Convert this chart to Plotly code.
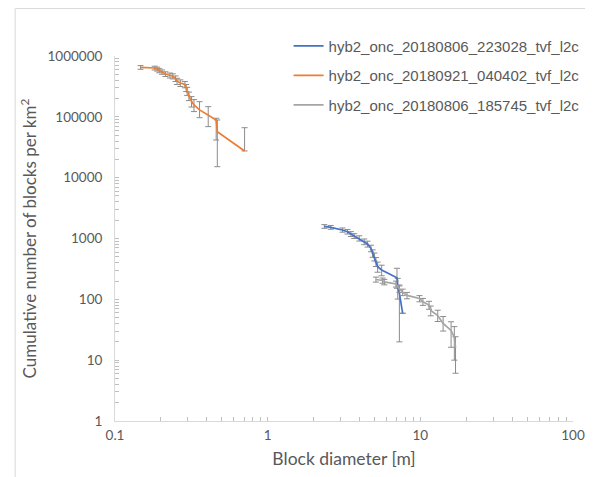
import plotly.graph_objects as go

# ---- data ----
blue_name = "hyb2_onc_20180806_223028_tvf_l2c"
blue_x = [2.35, 2.59, 3.09, 3.33, 3.51, 3.69, 3.98, 4.29, 4.51, 4.75, 4.87, 5.00, 5.12, 5.25, 5.58, 7.03, 7.11, 7.29, 7.66]
blue_y = [1580, 1528, 1380, 1295, 1187, 1100, 1008, 887, 813, 690, 571, 502, 416, 344, 304, 227, 161, 126, 59]
blue_err_plus = [110, 110, 110, 110, 110, 100, 100, 95, 90, 85, 80, 75, 70, 65, 60, 97, 60, 46, 0]
blue_err_minus = [110, 110, 110, 110, 110, 100, 100, 95, 90, 85, 80, 75, 70, 65, 60, 75, 60, 106, 0]

orange_name = "hyb2_onc_20180921_040402_tvf_l2c"
orange_x = [0.147, 0.182, 0.189, 0.195, 0.2035, 0.214, 0.229, 0.239, 0.249, 0.255, 0.268, 0.287, 0.2925,
            0.297, 0.305, 0.317, 0.329, 0.358, 0.408, 0.460, 0.468, 0.706]
orange_y = [650000, 635000, 610000, 575000, 545000, 505000, 480000, 465000, 425000, 385000, 360000, 340000,
            300000, 265000, 220000, 180000, 157000, 130000, 107000, 88800, 57000, 27500]
orange_err_plus = [45000, 45000, 45000, 45000, 45000, 45000, 45000, 45000, 45000, 45000, 45000, 40000,
                   40000, 40000, 35000, 35000, 35000, 47500, 40000, 5900, 31800, 38800]
orange_err_minus = [45000, 45000, 45000, 45000, 45000, 45000, 45000, 45000, 45000, 45000, 45000, 40000,
                    40000, 40000, 35000, 35000, 35000, 33200, 38000, 47200, 41850, 0]

gray_name = "hyb2_onc_20180806_185745_tvf_l2c"
gray_x = [5.12, 5.66, 5.81, 6.92, 7.29, 7.66, 8.18, 9.87, 10.4, 11.4, 11.7, 13.0, 14.1, 15.9, 16.7, 17.0]
gray_y = [212, 204, 193, 179, 148, 131, 116, 103, 91.5, 80.7, 65.6, 54.2, 40.1, 30.8, 23.6, 15.9]
gray_err_plus = [20, 20, 20, 20, 18, 16, 14, 12, 12, 12, 12, 12, 12, 12, 12, 8.4]
gray_err_minus = [20, 20, 20, 20, 18, 16, 14, 12, 12, 12, 12, 11, 10, 14.5, 13.6, 9.8]

x_tickvals = [0.1, 1, 10, 100]
x_ticktext = ["0.1", "1", "10", "100"]
y_tickvals = [1, 10, 100, 1000, 10000, 100000, 1000000]
y_ticktext = ["1", "10", "100", "1000", "10000", "100000", "1000000"]

# ---- figure ----
ERR_COLOR = "#8c8c8c"
TXT = "#595959"
AXIS = "#d9d9d9"
FONT = "Lato, Open Sans, sans-serif"

def trace(name, x, y, ep, em, color, group):
    return go.Scatter(
        x=x, y=y, name=name, mode="lines",
        line=dict(color=color, width=1.7),
        legendgroup=group,
        error_y=dict(type="data", symmetric=False, array=ep, arrayminus=em,
                     color=ERR_COLOR, thickness=1, width=3),
    )

fig = go.Figure()
fig.add_trace(trace(blue_name, blue_x, blue_y, blue_err_plus, blue_err_minus, "#4472C4", "a"))
fig.add_trace(trace(orange_name, orange_x, orange_y, orange_err_plus, orange_err_minus, "#ED7D31", "b"))
fig.add_trace(trace(gray_name, gray_x, gray_y, gray_err_plus, gray_err_minus, "#A5A5A5", "c"))

axis_common = dict(
    type="log", showgrid=False, zeroline=False,
    showline=True, linecolor=AXIS, linewidth=1,
    ticks="inside", ticklen=4, tickcolor="#bfbfbf",
    tickfont=dict(family=FONT, size=13.5, color=TXT),
    minor=dict(ticks="inside", ticklen=4, tickcolor="#bfbfbf", dtick="D1", showgrid=False),
)

fig.update_xaxes(
    **axis_common, range=[-1, 2],
    tickvals=x_tickvals, ticktext=x_ticktext, ticklabelstandoff=2,
    title=dict(text="Block diameter [m]", font=dict(family=FONT, size=17.5, color=TXT), standoff=10),
)
fig.update_yaxes(
    **axis_common, range=[0, 6],
    tickvals=y_tickvals, ticktext=y_ticktext, ticklabelstandoff=9,
    title=dict(text="Cumulative number of blocks per km<sup>2</sup>",
               font=dict(family=FONT, size=17, color=TXT), standoff=6),
)

fig.update_layout(
    width=593, height=469,
    margin=dict(l=107, r=28, t=48, b=56),
    paper_bgcolor="white", plot_bgcolor="white",
    showlegend=True,
    legend=dict(
        x=0.379, y=1.072, xanchor="left", yanchor="top",
        font=dict(family="Liberation Sans, Arial, sans-serif", size=15, color=TXT),
        bgcolor="rgba(0,0,0,0)", tracegroupgap=7, itemwidth=30,
    ),
    shapes=[dict(type="rect", xref="paper", yref="paper",
                 x0=-0.218, x1=1.3, y0=-0.3, y1=1.130,
                 line=dict(color="#d9d9d9", width=1), fillcolor="rgba(0,0,0,0)", layer="below")],
)

fig.write_html("out.html")
